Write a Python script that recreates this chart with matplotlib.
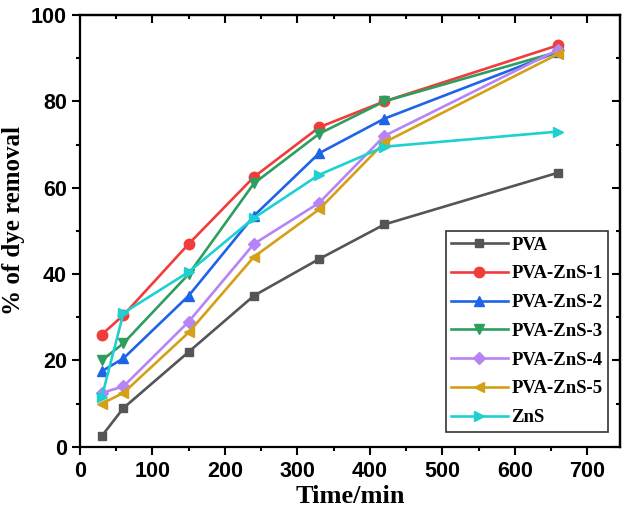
import matplotlib
matplotlib.use('Agg')
import matplotlib.pyplot as plt
from matplotlib.ticker import MultipleLocator

time_min = [30, 60, 150, 240, 330, 420, 660]

pva = [2.5, 9, 22, 35, 43.5, 51.5, 63.5]
pva_zns_1 = [26, 30.5, 47, 62.5, 74, 80, 93]
pva_zns_2 = [17.5, 20.5, 35, 53.5, 68, 76, 91.5]
pva_zns_3 = [20, 24, 40, 61, 72.5, 80, 91.5]
pva_zns_4 = [12.5, 14, 29, 47, 56.5, 72, 92]
pva_zns_5 = [10, 12.5, 26.5, 44, 55, 70.5, 91]
zns = [11.5, 31, 40.5, 53, 63, 69.5, 73]

names = ['PVA', 'PVA-ZnS-1', 'PVA-ZnS-2', 'PVA-ZnS-3', 'PVA-ZnS-4', 'PVA-ZnS-5', 'ZnS']
series = [pva, pva_zns_1, pva_zns_2, pva_zns_3, pva_zns_4, pva_zns_5, zns]
colors = ['#555555', '#f23c3c', '#1e64e6', '#2e9e5e', '#b784f5', '#d4a017', '#1fd0d0']
markers = ['s', 'o', '^', 'v', 'D', '<', '>']
msizes = [6, 7.5, 7.5, 7.5, 6.5, 7.5, 7.5]

fig = plt.figure(figsize=(6.25, 5.16), dpi=100)
ax = fig.add_axes([0.128, 0.134, 0.864, 0.837])

for name, vals, c, m, ms in zip(names, series, colors, markers, msizes):
    ax.plot(time_min, vals, color=c, marker=m, markersize=ms, linewidth=1.9, label=name)

ax.set_xlim(0, 745)
ax.set_ylim(0, 100)
ax.xaxis.set_major_locator(MultipleLocator(100))
ax.xaxis.set_minor_locator(MultipleLocator(50))
ax.yaxis.set_major_locator(MultipleLocator(20))
ax.yaxis.set_minor_locator(MultipleLocator(10))

for s in ax.spines.values():
    s.set_linewidth(1.6)

ax.tick_params(which='both', direction='out', width=1.5, top=False, right=False)
ax.tick_params(which='major', length=6)
ax.tick_params(which='minor', length=3)
ax.tick_params(labelsize=15.5)
ax.tick_params(axis='x', pad=4)
for lab in ax.get_xticklabels() + ax.get_yticklabels():
    lab.set_fontfamily('Liberation Sans')
    lab.set_fontweight('bold')

# inward ticks on top and right
sec_x = ax.secondary_xaxis('top')
sec_x.xaxis.set_major_locator(MultipleLocator(100))
sec_x.xaxis.set_minor_locator(MultipleLocator(50))
sec_x.tick_params(which='both', direction='in', width=1.5, labeltop=False)
sec_x.tick_params(which='major', length=6)
sec_x.tick_params(which='minor', length=3)
sec_y = ax.secondary_yaxis('right')
sec_y.yaxis.set_major_locator(MultipleLocator(20))
sec_y.yaxis.set_minor_locator(MultipleLocator(10))
sec_y.tick_params(which='both', direction='in', width=1.5, labelright=False)
sec_y.tick_params(which='major', length=6)
sec_y.tick_params(which='minor', length=3)
for s in list(sec_x.spines.values()) + list(sec_y.spines.values()):
    s.set_linewidth(1.6)

ax.set_xlabel('Time/min', fontfamily='Liberation Serif', fontweight='bold', fontsize=19, labelpad=2)
ax.set_ylabel('% of dye removal', fontfamily='Liberation Serif', fontweight='bold', fontsize=18, labelpad=3)
ax.yaxis.set_label_coords(-0.102, 0.525)

leg = ax.legend(loc='lower right', bbox_to_anchor=(0.978, 0.035), fancybox=False,
                framealpha=1, edgecolor='#333333', handlelength=3.0, handletextpad=0.2,
                labelspacing=0.62, borderpad=0.3, borderaxespad=0,
                prop={'family': 'Liberation Serif', 'weight': 'bold', 'size': 13.5})
leg.get_frame().set_linewidth(1.2)

fig.savefig('out.png', dpi=100)
